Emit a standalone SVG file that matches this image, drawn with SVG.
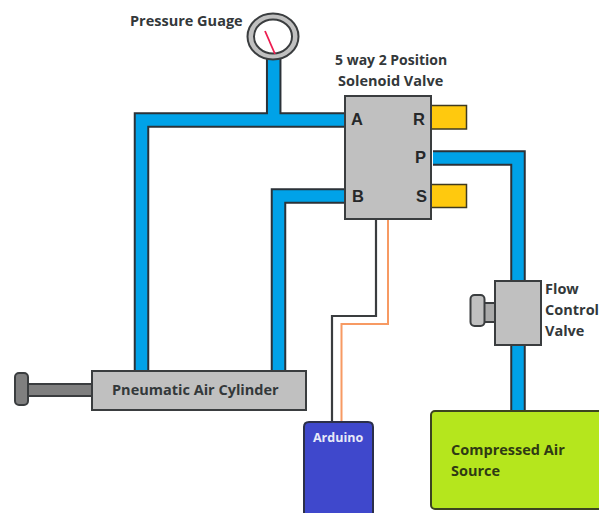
<svg xmlns="http://www.w3.org/2000/svg" width="599" height="513" viewBox="0 0 599 513">
<style>
text{font-family:"Open Sans","Noto Sans",sans-serif;font-weight:700;fill:#33383a}
.t{font-size:14.500px}
.p{font-family:"Liberation Sans",sans-serif;font-size:16.500px;font-weight:700;fill:#26282a}
.pe{fill:none;stroke:#2b3238;stroke-width:15.500;stroke-linejoin:miter}
.pi{fill:none;stroke:#00a2e8;stroke-width:11.500;stroke-linejoin:miter}
.g{fill:#c0c0c0;stroke:#3a3d3f;stroke-width:2}
.y{fill:#ffc90e;stroke:#3f3a20;stroke-width:1.500}
</style>
<rect width="599" height="513" fill="#fff"/>
<g id="connectors">
<path class="pe" d="M141.500 372V120H344M273.700 55V120M278.500 372V196H344M433 158H518V282M518 343V412"/>
<path class="pi" d="M141.500 371V120H344M273.700 54V120M278.500 371V196H344M433 158H518V282M518 343V411"/>
<path d="M376 219V316H332V422" fill="none" stroke="#3a3d3f" stroke-width="2.200"/>
<path d="M388 219V324H341.500V422" fill="none" stroke="#f79a63" stroke-width="2"/>
</g>
<g id="gauge">
<ellipse cx="273" cy="36.500" rx="25.500" ry="23" fill="#c0c0c0" stroke="#3a3d3f" stroke-width="2"/>
<ellipse cx="273" cy="36.500" rx="19" ry="17" fill="#fff" stroke="#3a3d3f" stroke-width="2"/>
<path d="M265 31L275 54" stroke="#ed1c50" stroke-width="1.800" fill="none"/>
<text x="130" y="26" class="t">Pressure Guage</text>
</g>
<g id="solenoid-valve">
<rect class="y" x="431" y="105.500" width="35.500" height="23.500"/>
<rect class="y" x="431" y="184.500" width="35.500" height="23"/>
<rect class="g" x="345" y="96" width="86" height="123"/>
<text x="335" y="65" style="font-size:14px">5 way 2 Position</text>
<text x="338" y="86" class="t">Solenoid Valve</text>
<text x="351" y="125" class="p">A</text>
<text x="413" y="125" class="p">R</text>
<text x="415" y="163" class="p">P</text>
<text x="352" y="202" class="p">B</text>
<text x="416" y="202" class="p">S</text>
</g>
<g id="cylinder">
<rect x="27" y="384" width="66" height="12" fill="#7f7f7f" stroke="#3a3d3f" stroke-width="2"/>
<rect x="15" y="373" width="13" height="32" rx="4" fill="#7f7f7f" stroke="#3a3d3f" stroke-width="2"/>
<rect class="g" x="92" y="371" width="214" height="39"/>
<text x="112" y="395" class="t">Pneumatic Air Cylinder</text>
</g>
<g id="arduino">
<path d="M304 513V427Q304 422 309 422H368Q373 422 373 427V513" fill="#3f48cc" stroke="#2b2f4a" stroke-width="2"/>
<text x="313" y="442" font-size="12.500" style="fill:#e8eaf8">Arduino</text>
</g>
<g id="flow-valve">
<rect x="484" y="303" width="11" height="19" fill="#aaa" stroke="#3a3d3f" stroke-width="2"/>
<rect class="g" x="470.500" y="295" width="14" height="31" rx="4"/>
<rect class="g" x="495" y="281" width="46" height="64"/>
<text x="545" y="294" class="t">Flow</text>
<text x="545" y="315" class="t">Control</text>
<text x="545" y="336" class="t">Valve</text>
</g>
<g id="air-source">
<rect x="431" y="411" width="172" height="98" rx="4" fill="#b5e61d" stroke="#3c4420" stroke-width="2"/>
<text x="451" y="455" class="t" style="fill:#2f3a14">Compressed Air</text>
<text x="451" y="476" class="t" style="fill:#2f3a14">Source</text>
</g>
</svg>
